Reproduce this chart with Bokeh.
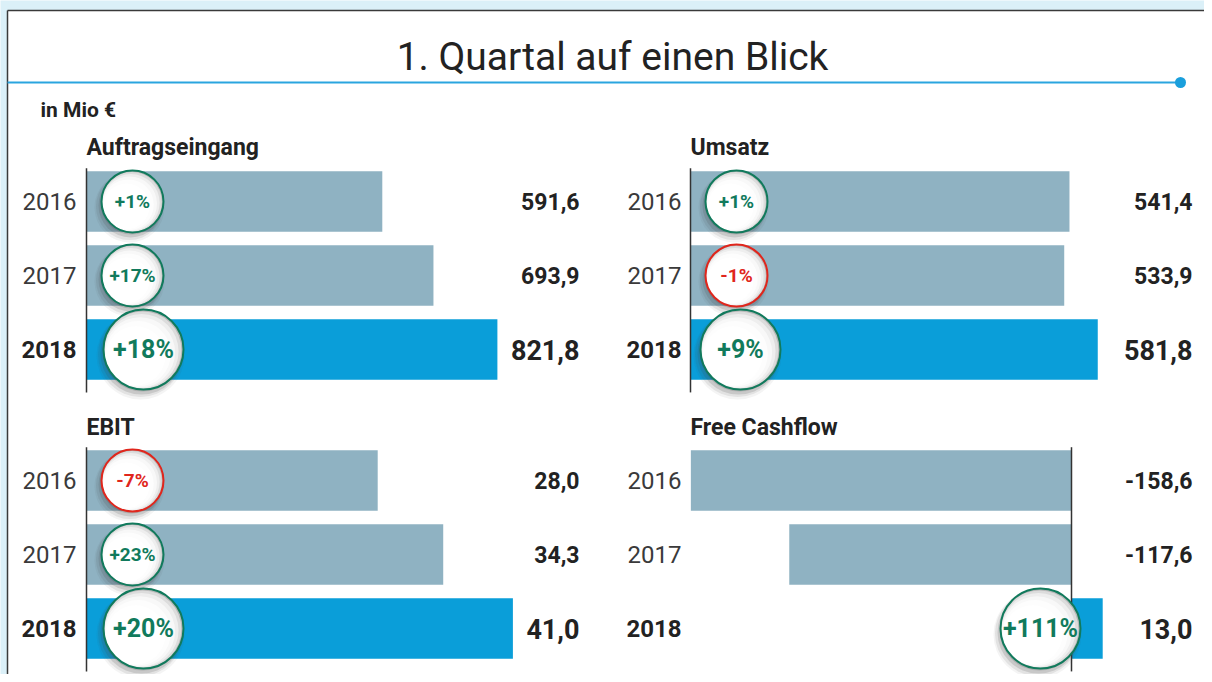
from bokeh.plotting import figure
from bokeh.models import Range1d
from bokeh.embed import file_html
from bokeh.resources import INLINE
from bokeh.core.properties import value

# ---------------- data ----------------
years = [2016, 2017, 2018]
auftrag = [591.6, 693.9, 821.8]
auftrag_pct = [1, 17, 18]
umsatz = [541.4, 533.9, 581.8]
umsatz_pct = [1, -1, 9]
ebit = [28.0, 34.3, 41.0]
ebit_pct = [-7, 23, 20]
fcf = [-158.6, -117.6, 13.0]
fcf_pct = [None, None, 111]

chart_title = "1. Quartal auf einen Blick"
unit_label = "in Mio €"
panel_titles = ["Auftragseingang", "Umsatz", "EBIT", "Free Cashflow"]
panel_values = [auftrag, umsatz, ebit, fcf]
panel_pcts = [auftrag_pct, umsatz_pct, ebit_pct, fcf_pct]

# ---------------- style / layout ----------------
FONT = value("Roboto")
W, H = 1204, 674
BG = "#dbf0f8"
GRAY_BAR = "#8fb2c2"
BLUE_BAR = "#0a9ed9"
GREEN = "#117a5c"
RED = "#e0261c"
DARK = "#222222"
SPACING = 74.0  # px between year rows

# per panel layout (pixel positions on the canvas)
layouts = [
    dict(axis=86, k=0.50, y0=201, title_x=86, title_y=147, year_x=76, val_x=579, cdx=(46, 57)),
    dict(axis=690, k=0.700, y0=201, title_x=690, title_y=147, year_x=681, val_x=1192, cdx=(46, 50)),
    dict(axis=86, k=10.40, y0=480, title_x=86, title_y=427, year_x=76, val_x=579, cdx=(46, 57)),
    dict(axis=1071, k=2.40, y0=480, title_x=690, title_y=427, year_x=681, val_x=1192, cdx=(-31, -31)),
]

p = figure(width=W, height=H, x_range=Range1d(0, W), y_range=Range1d(H, 0),
           x_axis_type=None, y_axis_type=None, output_backend="svg",
           toolbar_location=None, min_border=0)
p.grid.visible = False
p.outline_line_color = None
p.background_fill_color = BG
p.border_fill_color = BG

# white card with dark border
p.quad(left=[7], right=[W], top=[10], bottom=[H], fill_color="white", line_color=None)
p.segment(x0=[7], y0=[10], x1=[W], y1=[10], line_color="#3a3a3a", line_width=1.5)
p.segment(x0=[7], y0=[10], x1=[7], y1=[H], line_color="#3a3a3a", line_width=1.5)

# header
p.text(x=[612], y=[56], text=[chart_title], text_font=FONT, text_font_size="39px",
       text_align="center", text_baseline="middle", text_color=DARK)
p.segment(x0=[7], y0=[82], x1=[1180], y1=[82], line_color="#2aa5df", line_width=2)
p.scatter(x=[1180], y=[82], size=11, fill_color="#1a9fdc", line_color=None)
p.text(x=[40], y=[109], text=[unit_label], text_font=FONT, text_font_size="21px",
       text_font_style="bold", text_align="left", text_baseline="middle", text_color=DARK)


def fmt(v):
    return f"{v:.1f}".replace(".", ",")


def fmt_pct(v):
    return (f"+{v}%" if v > 0 else f"{v}%")


for i, (lay, vals, pcts, ttl) in enumerate(zip(layouts, panel_values, panel_pcts, panel_titles)):
    xn, yn = f"x{i}", f"y{i}"
    k, ax, y0 = lay["k"], lay["axis"], lay["y0"]
    p.extra_x_ranges[xn] = Range1d(-ax / k, (W - ax) / k)
    p.extra_y_ranges[yn] = Range1d(years[0] + (H - y0) / SPACING, years[0] - y0 / SPACING)

    # title
    p.text(x=[lay["title_x"]], y=[lay["title_y"]], text=[ttl], text_font=FONT,
           text_font_size="23px", text_font_style="bold", text_align="left",
           text_baseline="middle", text_color=DARK)

    # bars
    colors = [BLUE_BAR if y == years[-1] else GRAY_BAR for y in years]
    p.hbar(y=years, left=0, right=vals, height=0.82, fill_color=colors, line_color=None,
           x_range_name=xn, y_range_name=yn)
    # axis line
    p.segment(x0=[0], y0=[years[0] - 0.45], x1=[0], y1=[years[-1] + 0.58],
              line_color="#333333", line_width=1.5, x_range_name=xn, y_range_name=yn)

    # year and value labels
    for y, v in zip(years, vals):
        last = y == years[-1]
        p.text(x=[lay["year_x"]], y=[y], text=[str(y)], text_font=FONT,
               text_font_size="24px",
               text_font_style="bold" if last else "normal",
               text_align="right", text_baseline="middle",
               text_color=DARK if last else "#3a3a3a", y_range_name=yn)
        p.text(x=[lay["val_x"]], y=[y], text=[fmt(v)], text_font=FONT,
               text_font_size="27px" if last else "23px", text_font_style="bold",
               text_align="right", text_baseline="middle", text_color=DARK,
               y_range_name=yn)

    # percent circles
    for y, pc in zip(years, pcts):
        if pc is None:
            continue
        last = y == years[-1]
        r = 40 if last else 31
        cx = ax + (lay["cdx"][1] if last else lay["cdx"][0])
        col = GREEN if pc >= 0 else RED
        # soft drop shadow (below, slightly left)
        for grow, ox, oy, a in [(8, 3, 6, 0.06), (5, 3, 5, 0.10), (2, 2, 4, 0.16), (0, 1, 2, 0.2)]:
            p.scatter(x=[cx - ox], y=[y + oy / SPACING], size=2 * r + grow,
                      fill_color="#444444", fill_alpha=a, line_color=None, y_range_name=yn)
        # shaded body (grey rim at upper right)
        p.scatter(x=[cx], y=[y], size=2 * r, fill_color="#b8b8b8", line_color=None,
                  y_range_name=yn)
        for sc, a in [(0.97, 0.5), (0.93, 0.5), (0.88, 0.6), (0.82, 0.7), (0.74, 1.0)]:
            off = (1 - sc) * r
            p.scatter(x=[cx - off * 0.75], y=[y + off * 0.6 / SPACING], size=2 * r * sc,
                      fill_color="white", fill_alpha=a, line_color=None, y_range_name=yn)
        # outline
        p.scatter(x=[cx], y=[y], size=2 * r, fill_alpha=0, line_color=col, line_width=2,
                  y_range_name=yn)
        p.text(x=[cx], y=[y], text=[fmt_pct(pc)], text_font=FONT,
               text_font_size="25px" if last else "19px", text_font_style="bold",
               text_align="center", text_baseline="middle", text_color=col,
               y_range_name=yn)

open("out.html", "w").write(file_html(p, INLINE))
